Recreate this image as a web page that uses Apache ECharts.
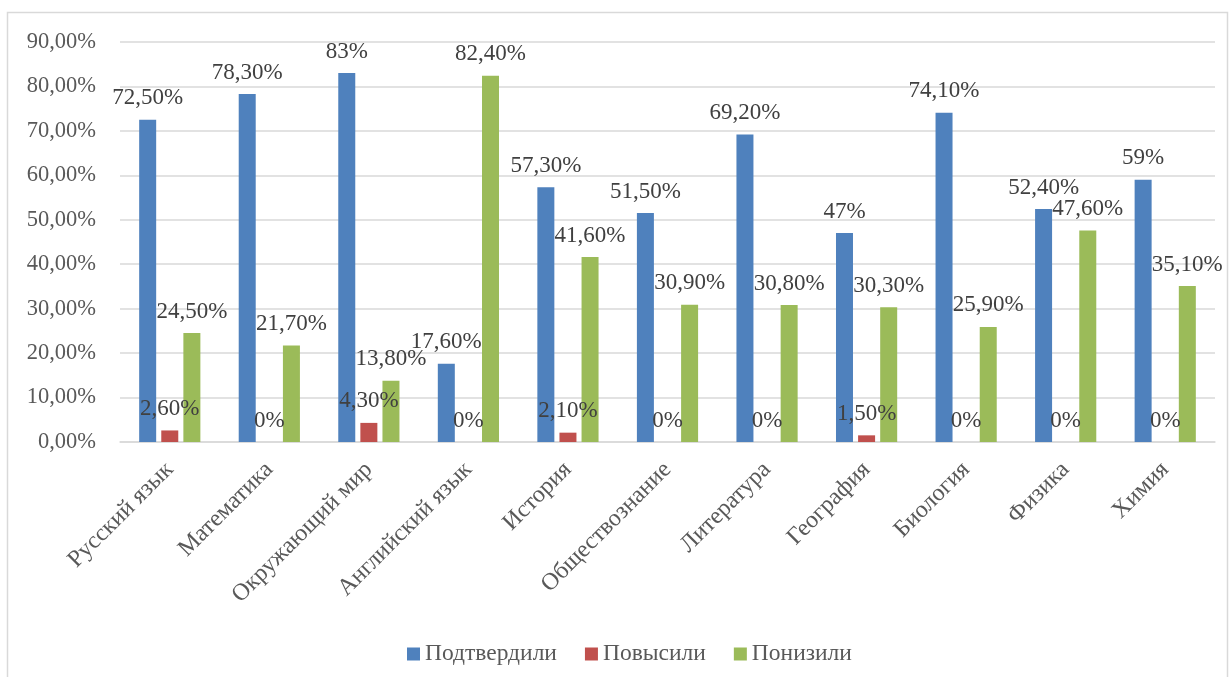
<!DOCTYPE html>
<html><head><meta charset="utf-8">
<script src="https://cdn.jsdelivr.net/npm/echarts@6/dist/echarts.min.js"></script>
<style>html,body{margin:0;padding:0;background:#fff}#c{width:1229px;height:677px}</style>
</head><body><div id="c"></div>
<script>
const categories = ['Русский язык','Математика','Окружающий мир','Английский язык','История','Обществознание','Литература','География','Биология','Физика','Химия'];
const confirmed = [72.5, 78.3, 83, 17.6, 57.3, 51.5, 69.2, 47, 74.1, 52.4, 59];
const raised = [2.6, 0, 4.3, 0, 2.1, 0, 0, 1.5, 0, 0, 0];
const lowered = [24.5, 21.7, 13.8, 82.4, 41.6, 30.9, 30.8, 30.3, 25.9, 47.6, 35.1];
const seriesNames = ['Подтвердили','Повысили','Понизили'];
const colors = ['#4f81bd','#c0504d','#9bbb59'];

const FONT = '"Liberation Serif","Times New Roman",serif';
function fmtLabel(v){ return Number.isInteger(v) ? v + '%' : v.toFixed(2).replace('.', ',') + '%'; }
function fmtAxis(v){ return v.toFixed(2).replace('.', ',') + '%'; }

const chart = echarts.init(document.getElementById('c'));
function mk(name, data, color){
  return {
    name, type:'bar', data, barWidth:17, barGap:'30%', barCategoryGap:'39%',
    itemStyle:{color},
    label:{show:true, position:'top', distance:10, fontFamily:FONT, fontSize:23, color:'#404040',
      formatter:p=>fmtLabel(p.value)}
  };
}
chart.setOption({
  animation:false,
  graphic:[{type:'rect', shape:{x:7.5,y:12.5,width:1220,height:700}, style:{fill:'none', stroke:'#d9d9d9', lineWidth:1.5}, silent:true}],
  grid:{left:120, right:14, top:42, bottom:235},
  legend:{top:637, left:402, itemWidth:13, itemHeight:13, itemGap:28, icon:'rect',
    textStyle:{fontFamily:FONT, fontSize:23.5, color:'#595959'}, data:seriesNames},
  xAxis:{type:'category', data:categories,
    axisLine:{lineStyle:{color:'#d9d9d9', width:1.5}}, axisTick:{show:false},
    axisLabel:{rotate:45, interval:0, fontFamily:FONT, fontSize:24, color:'#595959', margin:24}},
  yAxis:{type:'value', min:0, max:90, interval:10,
    axisLine:{show:false}, axisTick:{show:false},
    splitLine:{lineStyle:{color:'#d9d9d9', width:1.5}},
    axisLabel:{fontFamily:FONT, fontSize:22.5, color:'#595959', margin:24, formatter:fmtAxis}},
  series:[mk(seriesNames[0], confirmed, colors[0]), mk(seriesNames[1], raised, colors[1]), mk(seriesNames[2], lowered, colors[2])]
});
</script></body></html>
